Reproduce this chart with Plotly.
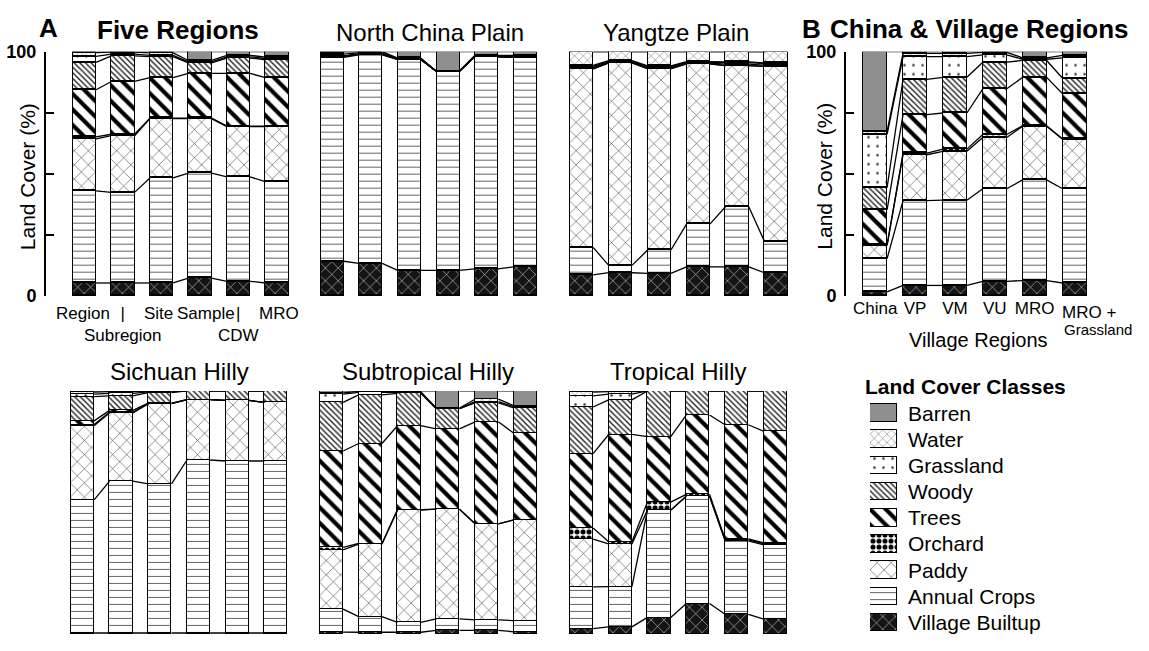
import plotly.graph_objects as go

# ---------------- data (percent land cover, bottom -> top) ----------------
CLASSES = ["Village Builtup", "Annual Crops", "Paddy", "Orchard", "Trees",
           "Woody", "Grassland", "Water", "Barren"]

FIVE_LABELS = ["Region", "|<br>Subregion", "Site", "Sample", "|<br>CDW", "MRO"]
B_LABELS = ["China", "VP", "VM", "VU", "MRO", "MRO +"]

# rows follow CLASSES order; columns are the six bars of each panel
FIVE_REGIONS = [
    [5.3, 5.3, 5.3, 7.3, 6.0, 5.3],
    [37.7, 37.1, 43.0, 43.0, 42.7, 41.5],
    [21.3, 23.2, 24.3, 22.3, 20.6, 22.5],
    [0.8, 0.6, 0.2, 0.2, 0.2, 0.2],
    [19.3, 21.6, 16.6, 18.3, 21.6, 19.9],
    [11.2, 10.5, 8.6, 4.3, 6.3, 7.3],
    [2.5, 0.7, 0.5, 0.4, 0.5, 0.5],
    [1.5, 0.8, 1.0, 0.6, 0.6, 0.6],
    [0.4, 0.2, 0.5, 3.6, 1.5, 2.2],
]
NORTH_CHINA_PLAIN = [
    [14.2, 13.3, 10.5, 10.5, 11.1, 11.9],
    [83.5, 85.4, 86.2, 81.5, 86.9, 85.8],
    [0.5, 0.3, 0.2, 0, 0, 0],
    [0, 0, 0, 0, 0, 0],
    [0, 0, 0, 0, 0, 0],
    [0, 0, 0, 0, 0, 0],
    [0.8, 0.5, 0.3, 0, 0.3, 0.4],
    [1.0, 0.5, 0.2, 0, 0.2, 0.4],
    [0, 0, 2.6, 8.0, 1.5, 1.5],
]
YANGTZE_PLAIN = [
    [8.6, 9.5, 9.2, 11.9, 11.9, 9.5],
    [11.3, 3.0, 9.6, 17.5, 24.6, 12.9],
    [73.1, 82.9, 74.3, 65.6, 57.8, 71.6],
    [0, 0, 0, 0, 0, 0],
    [0.5, 0.3, 0.4, 0.3, 0.6, 0.5],
    [0.5, 0.3, 0.4, 0.3, 0.6, 0.6],
    [0.4, 0.3, 0.3, 0.3, 0.3, 0.3],
    [5.6, 3.7, 5.8, 4.1, 4.2, 4.6],
    [0, 0, 0, 0, 0, 0],
]
CHINA_VILLAGE = [
    [1.7, 4.3, 4.3, 6.0, 6.3, 5.3],
    [13.6, 34.7, 34.9, 37.9, 41.2, 38.6],
    [5.3, 18.8, 20.0, 21.0, 22.0, 20.2],
    [0.3, 0.7, 0.9, 1.2, 0.2, 0.2],
    [14.3, 15.7, 14.8, 18.7, 19.8, 18.5],
    [9.1, 14.5, 14.6, 10.9, 6.9, 6.3],
    [21.8, 9.3, 8.5, 3.0, 0.5, 8.4],
    [1.3, 1.3, 1.3, 1.0, 0.6, 1.0],
    [32.6, 0.7, 0.7, 0.3, 2.5, 1.5],
]
SICHUAN_HILLY = [
    [0.5, 0.5, 0.5, 0.5, 0.5, 0.5],
    [54.7, 62.4, 61.3, 71.1, 70.7, 70.7],
    [30.5, 28.1, 33.0, 24.8, 24.9, 24.1],
    [0.5, 0.2, 0, 0, 0, 0],
    [1.5, 0.8, 0.2, 0, 0, 0],
    [10.0, 6.0, 4.3, 3.6, 3.9, 4.7],
    [1.0, 1.0, 0.3, 0, 0, 0],
    [0.8, 0.7, 0.3, 0, 0, 0],
    [0.5, 0.3, 0.1, 0, 0, 0],
]
SUBTROPICAL_HILLY = [
    [0.9, 0.8, 0.8, 1.6, 1.6, 1.0],
    [9.4, 6.4, 4.1, 4.7, 4.3, 4.6],
    [24.4, 29.8, 46.1, 45.1, 39.5, 41.4],
    [1.0, 0.3, 0.2, 0, 0, 0],
    [39.6, 41.1, 34.5, 33.0, 41.9, 35.6],
    [20.0, 20.0, 13.3, 8.3, 7.8, 10.4],
    [3.4, 1.0, 0.4, 0, 0.5, 0.5],
    [0.5, 0.4, 0.3, 0.3, 1.0, 0.5],
    [0.8, 0.2, 0.3, 7.0, 3.4, 6.0],
]
TROPICAL_HILLY = [
    [2.3, 3.0, 6.9, 12.6, 8.2, 6.2],
    [17.2, 16.6, 44.1, 44.1, 30.2, 30.5],
    [19.6, 17.5, 0, 0, 0.4, 0.4],
    [4.6, 0.9, 3.3, 0.8, 0.4, 0.4],
    [30.5, 44.1, 26.9, 32.6, 46.9, 45.9],
    [19.2, 14.2, 18.8, 9.9, 13.9, 16.6],
    [4.6, 2.4, 0, 0, 0, 0],
    [1.5, 1.0, 0, 0, 0, 0],
    [0.5, 0.3, 0, 0, 0, 0],
]

# ---------------- styling ----------------
W, H = 1149, 651
FONT = "Liberation Sans, Arial, Helvetica, sans-serif"
BAR_W = 0.6
FIVE_LABEL_SHIFT = [-2, 0, -3, 6, 0, 2]   # small horizontal nudges (px)


def px(x):
    return x / W


def py(y):
    return 1 - y / H


STYLES = {
    "Village Builtup": dict(bg="#141414", fg="#d8d8d8", shape="x", size=9, solidity=0.12),
    "Annual Crops": dict(bg="white", fg="#555555", shape="-", size=7, solidity=0.13),
    "Paddy": dict(bg="white", fg="#2a2a2a", shape="x", size=10, solidity=0.1),
    "Orchard": dict(bg="white", fg="black", shape=".", size=6, solidity=0.55),
    "Trees": dict(bg="white", fg="black", shape="\\", size=11, solidity=0.38),
    "Woody": dict(bg="white", fg="#222222", shape="\\", size=4, solidity=0.35),
    "Grassland": dict(bg="white", fg="#333333", shape=".", size=9, solidity=0.06),
    "Water": dict(bg="white", fg="#333333", shape="x", size=6, solidity=0.12),
    "Barren": dict(bg="#8f8f8f", fg="#8f8f8f", shape="", size=8, solidity=0.3),
}


def marker_for(cls):
    s = STYLES[cls]
    return dict(
        color=s["bg"],
        line=dict(color="black", width=1.2),
        pattern=dict(shape=s["shape"], fgcolor=s["fg"], bgcolor=s["bg"],
                     size=s["size"], solidity=s["solidity"], fillmode="replace"),
    )


# panel layout (pixel boxes)
PANELS = [
    dict(data=FIVE_REGIONS, x0=46, x1=296.25, y0=43, y1=295, xr=[-1.0, 5.5], yaxis=True),
    dict(data=NORTH_CHINA_PLAIN, x0=312.7, x1=544.3, y0=43, y1=295, xr=[-0.5, 5.5], yaxis=False),
    dict(data=YANGTZE_PLAIN, x0=562, x1=795.5, y0=43, y1=295, xr=[-0.5, 5.5], yaxis=False),
    dict(data=CHINA_VILLAGE, x0=846, x1=1094.5, y0=43, y1=295, xr=[-0.73, 5.5], yaxis=True),
    dict(data=SICHUAN_HILLY, x0=63.15, x1=295.35, y0=393, y1=644, xr=[-0.5, 5.5], yaxis=False),
    dict(data=SUBTROPICAL_HILLY, x0=312.1, x1=544.9, y0=393, y1=644, xr=[-0.5, 5.5], yaxis=False),
    dict(data=TROPICAL_HILLY, x0=562.1, x1=794.9, y0=393, y1=644, xr=[-0.5, 5.5], yaxis=False),
]

fig = go.Figure()
layout = {}

for p_i, p in enumerate(PANELS):
    n = p_i + 1
    xa = "x" if n == 1 else f"x{n}"
    ya = "y" if n == 1 else f"y{n}"
    xkey = "xaxis" if n == 1 else f"xaxis{n}"
    ykey = "yaxis" if n == 1 else f"yaxis{n}"
    data = p["data"]
    nbars = len(data[0])
    xs = list(range(nbars))

    for c_i, cls in enumerate(CLASSES):
        fig.add_trace(go.Bar(
            x=xs, y=data[c_i], width=BAR_W, name=cls, xaxis=xa, yaxis=ya,
            marker=marker_for(cls), showlegend=False, cliponaxis=False,
            hoverinfo="skip",
        ))

    # connecting lines between stacked boundaries
    cum = []
    running = [0.0] * nbars
    for c_i in range(len(CLASSES)):
        running = [running[b] + data[c_i][b] for b in range(nbars)]
        cum.append(running[:])
    lx, ly = [], []
    hw = BAR_W / 2
    for row in cum:
        for b in range(nbars - 1):
            lx += [b + hw, b + 1 - hw, None]
            ly += [row[b], row[b + 1], None]
    fig.add_trace(go.Scatter(x=lx, y=ly, mode="lines", xaxis=xa, yaxis=ya,
                             line=dict(color="black", width=1.3),
                             showlegend=False, cliponaxis=False, hoverinfo="skip"))

    xdict = dict(domain=[px(p["x0"]), px(p["x1"])], range=p["xr"], anchor=ya,
                 showgrid=False, zeroline=False, showline=False, ticks="",
                 showticklabels=False, fixedrange=True)
    ydict = dict(domain=[py(p["y1"]), py(p["y0"])], range=[0, 100], anchor=xa,
                 showgrid=False, zeroline=False, showline=False, ticks="",
                 showticklabels=False, fixedrange=True)
    if p["yaxis"]:
        ydict.update(showline=True, linecolor="black", linewidth=2, ticks="inside",
                     ticklen=8, tickwidth=2, tickcolor="black",
                     tickvals=[0, 25, 50, 75, 100], ticktext=["0", "", "", "", "100"],
                     showticklabels=True, ticklabelstandoff=4,
                     tickfont=dict(family=FONT, size=18, color="black", weight="bold"))
    layout[xkey] = xdict
    layout[ykey] = ydict

# x tick labels for panel B
layout["xaxis4"].update(showticklabels=True, tickvals=list(range(5)), ticktext=B_LABELS[:5],
                        tickangle=0, tickfont=dict(family=FONT, size=17, color="black"),
                        ticklabelstandoff=0)

# ---------------- legend drawn as a small bar panel ----------------
LN = len(PANELS) + 1
lxa, lya = f"x{LN}", f"y{LN}"
for c_i, cls in enumerate(CLASSES):
    fig.add_trace(go.Bar(x=[1], y=[c_i], orientation="h", width=0.67,
                         marker=marker_for(cls), xaxis=lxa, yaxis=lya,
                         showlegend=False, cliponaxis=False, hoverinfo="skip"))
layout[f"xaxis{LN}"] = dict(domain=[px(870), px(897)], range=[0, 1], anchor=lya,
                            visible=False, fixedrange=True)
layout[f"yaxis{LN}"] = dict(domain=[py(645.5), py(402.5)], range=[-0.5, len(CLASSES) - 0.5],
                            anchor=lxa, side="right", showgrid=False, zeroline=False,
                            showline=False, ticks="", tickvals=list(range(len(CLASSES))),
                            ticktext=CLASSES, ticklabelstandoff=10, fixedrange=True,
                            tickfont=dict(family=FONT, size=21, color="black"))

# ---------------- annotations ----------------
def ann(text, x, y, size, bold=False, xanchor="center", angle=0):
    return dict(text=f"<b>{text}</b>" if bold else text, x=px(x), y=py(y),
                xref="paper", yref="paper", xanchor=xanchor, yanchor="middle",
                showarrow=False, textangle=angle,
                font=dict(family=FONT, size=size, color="black"))


annotations = [
    ann("A", 48.5, 19, 26, bold=True),
    ann("Five Regions", 177.5, 21, 26, bold=True),
    ann("North China Plain", 430, 23, 24),
    ann("Yangtze Plain", 676, 23, 24),
    ann("B", 811, 20, 26, bold=True),
    ann("China &amp; Village Regions", 828, 20, 26, bold=True, xanchor="left"),
    ann("Sichuan Hilly", 179, 373, 24),
    ann("Subtropical Hilly", 427.5, 373, 24),
    ann("Tropical Hilly", 678, 373, 24),
    ann("Land Cover (%)", 27.5, 172, 21, angle=-90),
    ann("Land Cover (%)", 825, 172, 21, angle=-90),
    ann(B_LABELS[5], 1089, 312, 17),
    ann("Grassland", 1098, 330, 15),
    ann("Village Regions", 978, 340, 20),
    ann("Land Cover Classes", 863, 388, 21, bold=True, xanchor="left"),
]

# category labels of panel A, placed under each bar on the panel's own x scale
for i, lab in enumerate(FIVE_LABELS):
    annotations.append(dict(
        text=lab, x=i, y=py(301), xref="x", yref="paper", xanchor="center",
        yanchor="top", showarrow=False, xshift=FIVE_LABEL_SHIFT[i],
        font=dict(family=FONT, size=17, color="black")))

fig.update_layout(
    width=W, height=H, margin=dict(l=0, r=0, t=0, b=0),
    paper_bgcolor="white", plot_bgcolor="rgba(0,0,0,0)",
    barmode="stack", bargap=0, showlegend=False,
    font=dict(family=FONT, color="black"),
    annotations=annotations,
    **layout,
)

fig.write_html("out.html",
               config={"displayModeBar": False},
               post_script="document.body.style.margin='0';"
                           "document.body.style.overflow='hidden';")
